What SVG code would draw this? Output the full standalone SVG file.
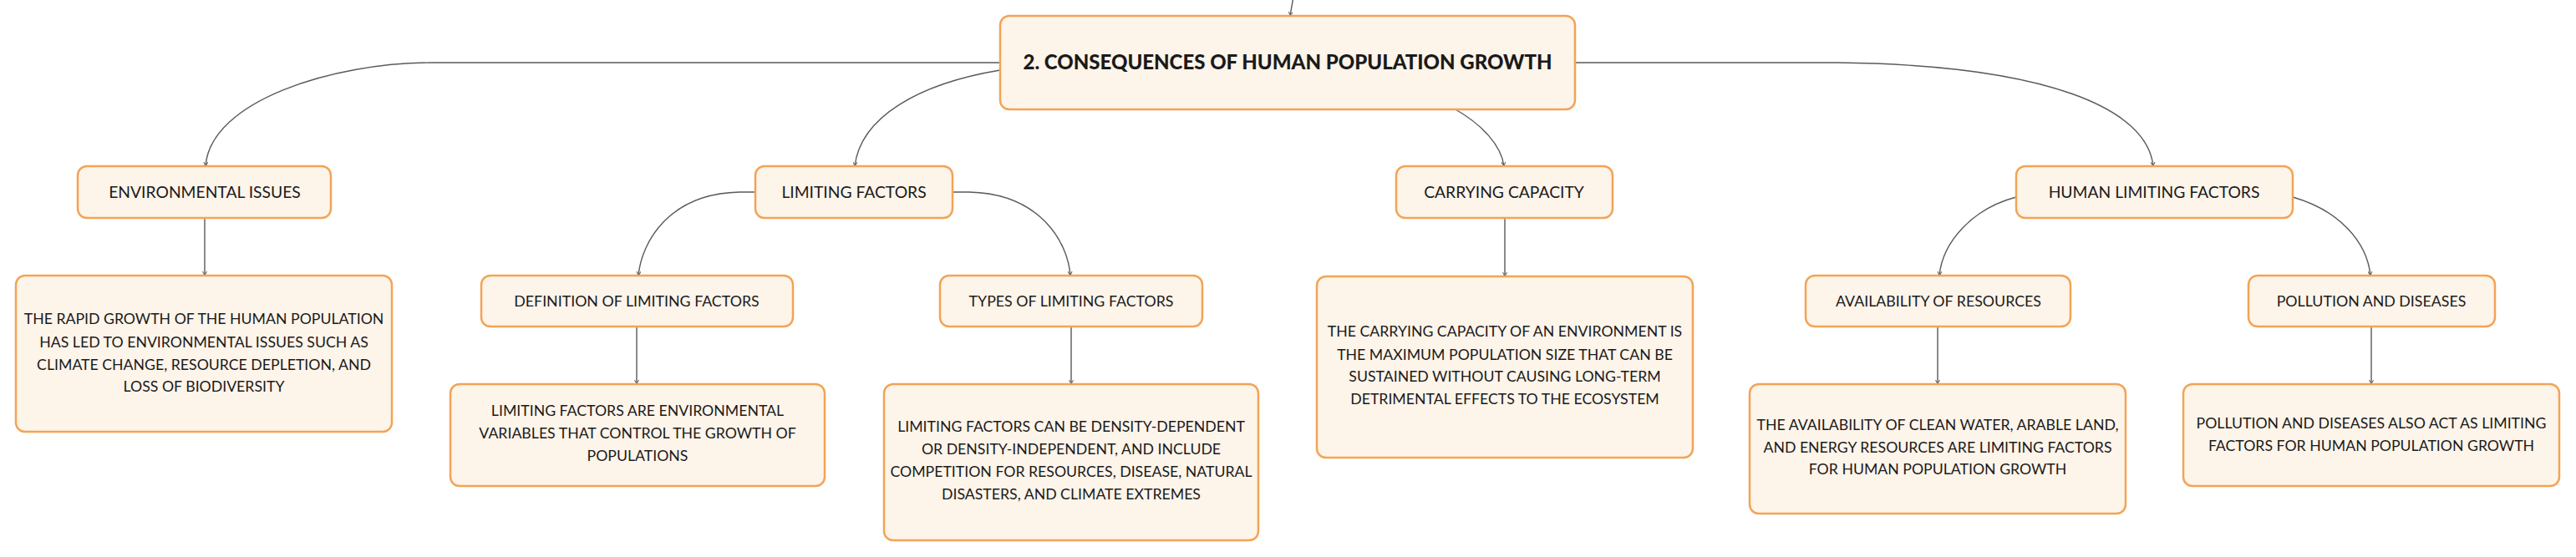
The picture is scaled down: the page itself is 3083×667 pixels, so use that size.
<svg xmlns="http://www.w3.org/2000/svg" width="3083" height="667" viewBox="0 0 3083 667">
<style>
.box{fill:#fdf4ea;stroke:#f2a456;stroke-width:2.5}
.t{font-family:Lato,"Noto Sans",sans-serif;fill:#1a1a1a;text-anchor:middle}
.t1{font-size:19.3px}
.t2{font-size:17.8px}
.td{font-size:17.7px}
.root{font-size:24px;font-weight:900}
.c{fill:none;stroke:#5a5a5a;stroke-width:1.4}
</style>
<defs>
<marker id="ah" markerWidth="6" markerHeight="6" refX="5" refY="3" orient="auto" markerUnits="userSpaceOnUse">
<path d="M0,0.5 L5,3 L0,5.5" fill="none" stroke="#5a5a5a" stroke-width="1"/>
</marker>
</defs>
<rect width="3083" height="667" fill="#ffffff"/>
<g id="connectors">
<path class="c" d="M1549,-10 L1544,19" marker-end="url(#ah)"/>
<path class="c" d="M1197,75 L517,75 C400,75 252,120 246,199" marker-end="url(#ah)"/>
<path class="c" d="M1197,84 C1100,100 1030,140 1023,199" marker-end="url(#ah)"/>
<path class="c" d="M1742,131 C1775,150 1797,175 1800,199" marker-end="url(#ah)"/>
<path class="c" d="M1885,75 L2200,75 C2450,78 2570,130 2577,199" marker-end="url(#ah)"/>
<path class="c" d="M904,230 L885,230 C800,232 768,290 764,330" marker-end="url(#ah)"/>
<path class="c" d="M1140,230 L1160,230 C1245,232 1278,290 1281,330" marker-end="url(#ah)"/>
<path class="c" d="M2413,236 C2360,250 2325,290 2321,330" marker-end="url(#ah)"/>
<path class="c" d="M2744,236 C2800,252 2833,290 2837,330" marker-end="url(#ah)"/>
<path class="c" d="M245,261 L245,330" marker-end="url(#ah)"/>
<path class="c" d="M762,391 L762,460" marker-end="url(#ah)"/>
<path class="c" d="M1282,391 L1282,460" marker-end="url(#ah)"/>
<path class="c" d="M1801,261 L1801,331" marker-end="url(#ah)"/>
<path class="c" d="M2319,391 L2319,460" marker-end="url(#ah)"/>
<path class="c" d="M2838,391 L2838,460" marker-end="url(#ah)"/>
</g>
<g id="root">
<rect class="box" x="1197" y="19" width="688" height="112" rx="11"/>
<text class="t root" x="1541" y="83">2. CONSEQUENCES OF HUMAN POPULATION GROWTH</text>
</g>
<g id="environmental-issues">
<rect class="box" x="93" y="199" width="303" height="62" rx="11"/>
<text class="t t1" x="245" y="237">ENVIRONMENTAL ISSUES</text>
</g>
<g id="limiting-factors">
<rect class="box" x="904" y="199" width="236" height="62" rx="11"/>
<text class="t t1" x="1022" y="237">LIMITING FACTORS</text>
</g>
<g id="carrying-capacity">
<rect class="box" x="1671" y="199" width="259" height="62" rx="11"/>
<text class="t t1" x="1800" y="237">CARRYING CAPACITY</text>
</g>
<g id="human-limiting-factors">
<rect class="box" x="2413" y="199" width="331" height="62" rx="11"/>
<text class="t t1" x="2578" y="237">HUMAN LIMITING FACTORS</text>
</g>
<g id="definition">
<rect class="box" x="576" y="330" width="373" height="61" rx="11"/>
<text class="t t2" x="762" y="367">DEFINITION OF LIMITING FACTORS</text>
</g>
<g id="types">
<rect class="box" x="1125" y="330" width="314" height="61" rx="11"/>
<text class="t t2" x="1282" y="367">TYPES OF LIMITING FACTORS</text>
</g>
<g id="availability">
<rect class="box" x="2161" y="330" width="317" height="61" rx="11"/>
<text class="t t2" x="2320" y="367">AVAILABILITY OF RESOURCES</text>
</g>
<g id="pollution">
<rect class="box" x="2691" y="330" width="295" height="61" rx="11"/>
<text class="t t2" x="2838" y="367">POLLUTION AND DISEASES</text>
</g>
<g id="env-desc">
<rect class="box" x="19" y="330" width="450" height="187" rx="11"/>
<text class="t td" x="244" y="388">THE RAPID GROWTH OF THE HUMAN POPULATION</text>
<text class="t td" x="244" y="416">HAS LED TO ENVIRONMENTAL ISSUES SUCH AS</text>
<text class="t td" x="244" y="443">CLIMATE CHANGE, RESOURCE DEPLETION, AND</text>
<text class="t td" x="244" y="469">LOSS OF BIODIVERSITY</text>
</g>
<g id="def-desc">
<rect class="box" x="539" y="460" width="448" height="122" rx="11"/>
<text class="t td" x="763" y="498">LIMITING FACTORS ARE ENVIRONMENTAL</text>
<text class="t td" x="763" y="525">VARIABLES THAT CONTROL THE GROWTH OF</text>
<text class="t td" x="763" y="552">POPULATIONS</text>
</g>
<g id="types-desc">
<rect class="box" x="1058" y="460" width="448" height="187" rx="11"/>
<text class="t td" x="1282" y="517">LIMITING FACTORS CAN BE DENSITY-DEPENDENT</text>
<text class="t td" x="1282" y="544">OR DENSITY-INDEPENDENT, AND INCLUDE</text>
<text class="t td" x="1282" y="571">COMPETITION FOR RESOURCES, DISEASE, NATURAL</text>
<text class="t td" x="1282" y="598">DISASTERS, AND CLIMATE EXTREMES</text>
</g>
<g id="cc-desc">
<rect class="box" x="1576" y="331" width="450" height="217" rx="11"/>
<text class="t td" x="1801" y="403">THE CARRYING CAPACITY OF AN ENVIRONMENT IS</text>
<text class="t td" x="1801" y="431">THE MAXIMUM POPULATION SIZE THAT CAN BE</text>
<text class="t td" x="1801" y="457">SUSTAINED WITHOUT CAUSING LONG-TERM</text>
<text class="t td" x="1801" y="484">DETRIMENTAL EFFECTS TO THE ECOSYSTEM</text>
</g>
<g id="avail-desc">
<rect class="box" x="2094" y="460" width="450" height="155" rx="11"/>
<text class="t td" x="2319" y="515">THE AVAILABILITY OF CLEAN WATER, ARABLE LAND,</text>
<text class="t td" x="2319" y="542">AND ENERGY RESOURCES ARE LIMITING FACTORS</text>
<text class="t td" x="2319" y="568">FOR HUMAN POPULATION GROWTH</text>
</g>
<g id="poll-desc">
<rect class="box" x="2613" y="460" width="450" height="122" rx="11"/>
<text class="t td" x="2838" y="513">POLLUTION AND DISEASES ALSO ACT AS LIMITING</text>
<text class="t td" x="2838" y="540">FACTORS FOR HUMAN POPULATION GROWTH</text>
</g>
</svg>
